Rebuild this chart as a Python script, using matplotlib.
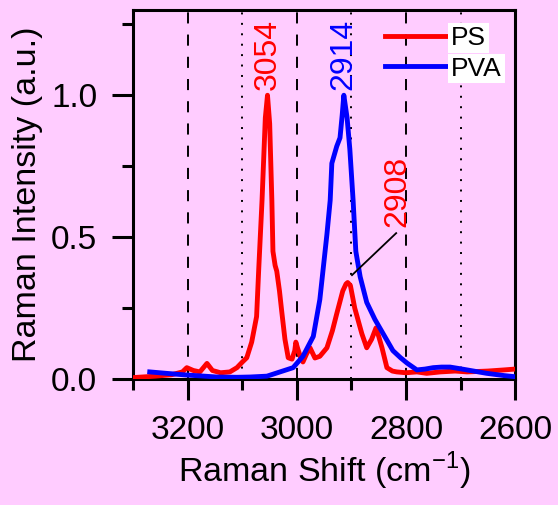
import numpy as np
import matplotlib
matplotlib.use("Agg")
from matplotlib import pyplot as plt
from matplotlib.ticker import MultipleLocator, FormatStrFormatter

# PS Raman spectrum
ps_x = [3300, 3260, 3230, 3210, 3202, 3190, 3178, 3165, 3155, 3140, 3123, 3110,
        3100, 3092, 3083, 3074, 3070, 3064, 3058, 3054, 3050, 3046, 3044, 3040,
        3037, 3032, 3028, 3022, 3016, 3009, 3004, 3002, 2999, 2994, 2989, 2982,
        2976, 2971, 2967, 2958, 2945, 2935, 2927, 2916, 2910, 2907, 2902, 2894,
        2881, 2872, 2863, 2855, 2850, 2844, 2835, 2825, 2817, 2800, 2780, 2762,
        2737, 2710, 2688, 2650, 2620, 2600]
ps_y = [0.005, 0.01, 0.015, 0.025, 0.04, 0.03, 0.025, 0.055, 0.03, 0.022, 0.025, 0.04,
        0.06, 0.075, 0.13, 0.22, 0.39, 0.63, 0.92, 1.0, 0.9, 0.63, 0.45, 0.40,
        0.38, 0.31, 0.24, 0.14, 0.075, 0.07, 0.10, 0.13, 0.11, 0.08, 0.06, 0.09,
        0.11, 0.09, 0.074, 0.08, 0.11, 0.17, 0.23, 0.31, 0.335, 0.34, 0.33, 0.25,
        0.16, 0.11, 0.14, 0.18, 0.15, 0.11, 0.04, 0.028, 0.025, 0.022, 0.025, 0.02,
        0.025, 0.028, 0.025, 0.028, 0.032, 0.035]

# PVA Raman spectrum
pva_x = [3270, 3240, 3202, 3170, 3147, 3110, 3086, 3055, 3031, 3007, 2989, 2970,
         2958, 2945, 2939, 2936, 2930, 2927, 2921, 2917, 2914, 2908, 2903, 2897,
         2892, 2884, 2872, 2857, 2842, 2824, 2810, 2798, 2780, 2765, 2750, 2735,
         2719, 2700, 2688, 2652, 2620, 2600]
pva_y = [0.025, 0.02, 0.014, 0.01, 0.007, 0.006, 0.007, 0.01, 0.025, 0.04, 0.08, 0.15,
         0.28, 0.51, 0.63, 0.76, 0.80, 0.82, 0.85, 0.93, 1.0, 0.92, 0.81, 0.63,
         0.45, 0.36, 0.27, 0.21, 0.16, 0.10, 0.075, 0.056, 0.032, 0.035, 0.04, 0.042,
         0.042, 0.036, 0.032, 0.02, 0.012, 0.008]

dashed_x = [3200, 3000, 2800]
dotted_x = [3100, 2900, 2700]

plt.rcParams['font.family'] = ['Liberation Sans', 'DejaVu Sans']
plt.rcParams['mathtext.fontset'] = 'custom'
plt.rcParams['mathtext.rm'] = 'Liberation Sans'
plt.rcParams['lines.scale_dashes'] = False

bg = '#ffccff'
fig = plt.figure(figsize=(5.58, 5.05), dpi=100, facecolor=bg)
ax = fig.add_axes([0.239, 0.2495, 0.684, 0.7305])
ax.set_facecolor(bg)

# guide lines at major (dashed) and minor (dotted) positions
for x in dashed_x:
    ax.axvline(x, color='black', lw=1.4, dashes=(8, 8), zorder=1)
for x in dotted_x:
    ax.axvline(x, color='black', lw=1.4, dashes=(1.4, 6.1), zorder=1)

ax.plot(ps_x, ps_y, color='#ff0000', lw=3.5, label='PS', solid_joinstyle='round', zorder=3)
ax.plot(pva_x, pva_y, color='#0000ff', lw=3.5, label='PVA', solid_joinstyle='round', zorder=4)

ax.set_xlim(3300, 2600)
ax.set_ylim(0, 1.30)
ax.xaxis.set_major_locator(MultipleLocator(200))
ax.xaxis.set_minor_locator(MultipleLocator(100))
ax.yaxis.set_major_locator(MultipleLocator(0.5))
ax.yaxis.set_minor_locator(MultipleLocator(0.25))
ax.yaxis.set_major_formatter(FormatStrFormatter('%.1f'))

for s in ax.spines.values():
    s.set_linewidth(2.2)
ax.tick_params(which='major', direction='out', length=15, width=2.2, labelsize=24, pad=11)
ax.tick_params(which='minor', direction='out', length=8, width=2.2)

ax.set_xlabel('Raman Shift (cm$^{-1}$)', fontsize=24.5, labelpad=3)
ax.set_ylabel('Raman Intensity (a.u.)', fontsize=24.5, labelpad=6)

# peak labels
ax.text(3054, 1.02, '3054', color='#ff0000', rotation=90, ha='center', va='bottom', fontsize=23)
ax.text(2914, 1.02, '2914', color='#0000ff', rotation=90, ha='center', va='bottom', fontsize=23)
ax.text(2815, 0.535, '2908', color='#ff0000', rotation=90, ha='center', va='bottom', fontsize=23)
ax.plot([2899, 2818], [0.366, 0.514], color='black', lw=1.3, zorder=5)

leg = ax.legend(loc='upper right', bbox_to_anchor=(0.965, 0.957), frameon=False,
                fontsize=19, handlelength=2.3, handletextpad=0.2, labelspacing=0.25,
                borderaxespad=0, borderpad=0)
for t in leg.get_texts():
    t.set_bbox(dict(facecolor='white', edgecolor='none', pad=2))

plt.savefig('out.png', dpi=100, facecolor=bg)
